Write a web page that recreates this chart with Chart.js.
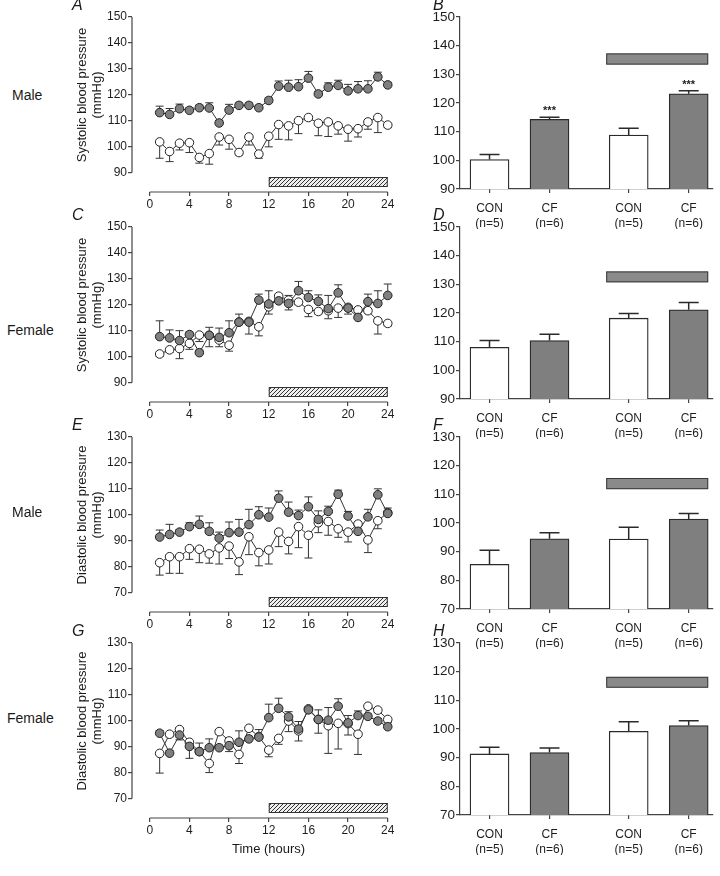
<!DOCTYPE html>
<html><head><meta charset="utf-8">
<script src="https://cdn.jsdelivr.net/npm/chart.js@4.4.0/dist/chart.umd.min.js"></script>
<style>
body{margin:0;background:#fff;width:720px;height:876px;position:relative;overflow:hidden;font-family:"Liberation Sans",Arial,sans-serif;color:#1a1a1a}
canvas{position:absolute}
.t{position:absolute;white-space:nowrap;line-height:18px}
.letter{font-style:italic;font-size:16px}
.sex{font-size:14px}
.yt{position:absolute;width:180px;height:30px;font-size:13px;line-height:15px;text-align:center;transform:rotate(-90deg);white-space:nowrap}
</style></head><body>
<script>
// ---------- data ----------
const hours = [1,2,3,4,5,6,7,8,9,10,11,12,13,14,15,16,17,18,19,20,21,22,23,24];
const xTickValues = [0,4,8,12,16,20,24];
const darkPeriod = [12,24];
const sysTicks = [90,100,110,120,130,140,150];
const diaTicks = [70,80,90,100,110,120,130];

// A: systolic, male
const conA    = [101.8,98.1,101.3,101.5,95.8,97.3,103.7,102.8,97.7,103.7,97.1,104.0,108.5,108.0,110.0,111.2,109.0,109.5,108.0,106.7,106.9,109.5,111.2,108.3];
const conAerr = [6.3,3.9,2.6,3.8,2.2,4.1,3.1,3.8,1.0,3.1,1.6,4.1,5.7,5.4,5.0,1.0,4.8,5.6,3.2,4.6,3.2,2.8,5.8,1.0];
const cfA     = [113.1,112.4,114.6,114.0,115.0,114.9,109.1,114.1,115.9,115.9,115.0,117.8,123.3,122.9,123.1,126.4,120.3,122.9,123.6,121.5,122.3,122.3,126.9,123.8];
const cfAerr  = [2.5,2.3,1.8,1.0,1.0,2.0,1.0,2.2,1.0,1.0,1.0,1.0,2.0,2.7,2.7,2.6,1.0,1.7,2.0,2.5,2.8,3.1,1.8,1.0];
// C: systolic, female
const conC    = [101.0,102.6,103.1,105.1,108.3,108.2,106.4,104.4,113.3,113.6,111.5,119.2,123.3,121.8,121.0,118.2,117.4,117.7,118.7,119.0,118.0,117.7,113.8,112.8];
const conCerr = [1.0,1.0,3.9,2.3,2.5,4.4,2.6,2.3,1.0,4.9,3.5,2.8,1.0,3.8,1.0,2.8,1.0,3.1,3.6,2.6,1.0,1.0,5.1,1.0];
const cfC     = [107.7,107.2,106.2,108.5,101.5,108.2,107.4,109.2,113.3,113.3,121.8,120.3,121.5,120.5,125.4,122.8,121.3,118.5,124.6,118.7,115.1,121.2,120.5,123.6];
const cfCerr  = [6.1,3.1,3.8,1.0,1.0,3.1,3.6,4.6,3.1,1.0,2.3,5.1,2.6,3.1,3.6,2.6,2.5,5.1,3.1,1.0,1.0,2.9,4.9,4.4];
// E: diastolic, male
const conE    = [81.5,83.8,83.8,86.9,86.7,84.9,87.2,87.9,81.8,91.5,85.4,86.4,93.3,89.7,95.4,92.1,96.9,97.4,94.6,93.3,96.4,90.3,97.7,100.8];
const conEerr = [4.8,6.4,6.4,4.1,5.2,3.6,6.2,4.8,4.9,6.9,5.1,5.4,5.6,4.8,8.1,8.8,3.8,5.3,3.3,3.8,1.0,4.9,3.1,1.0];
const cfE     = [91.4,92.4,93.3,95.4,96.3,93.6,91.0,93.1,93.3,96.2,100.0,99.1,106.4,101.0,99.7,103.1,98.2,101.3,107.9,99.5,93.6,99.2,107.7,100.5];
const cfEerr  = [2.7,3.9,1.0,1.5,3.2,3.3,2.3,4.1,4.9,5.9,3.1,3.5,2.8,3.9,2.1,3.8,3.3,2.0,1.6,1.8,3.6,2.9,2.3,2.1];
// G: diastolic, female
const conG    = [87.4,94.8,96.6,91.7,88.1,83.5,95.8,92.2,87.0,97.1,93.9,88.7,93.2,99.9,96.1,104.6,100.5,98.1,99.0,98.9,94.8,105.6,104.1,100.5];
const conGerr = [7.6,1.0,4.0,6.2,1.0,3.5,1.0,4.1,3.5,1.0,1.0,2.6,2.3,4.1,3.9,1.0,5.3,10.7,9.9,4.4,7.8,1.0,1.0,1.0];
const cfG     = [95.2,87.5,94.5,90.1,88.1,89.6,89.6,90.4,91.7,93.0,93.7,101.2,104.8,101.5,96.8,104.2,100.5,100.2,105.6,99.2,102.0,101.7,99.9,97.7];
const cfGerr  = [1.0,1.0,2.9,1.0,3.3,3.4,1.0,1.0,4.4,1.0,2.9,5.2,3.9,2.0,2.9,1.0,3.7,4.9,2.9,2.8,1.8,1.0,1.0,1.5];

// Bar panels: order CON, CF, CON, CF
const barLabels = ['CON','CF','CON','CF'];
const barN      = ['(n=5)','(n=6)','(n=5)','(n=6)'];
const barB = [100.3,114.3,108.8,123.2], barBerr = [1.7,0.7,2.4,1.1], bandB = [133.4,137.3], starsB = ['','***','','***'];
const barD = [108.0,110.4,118.2,121.1], barDerr = [2.4,2.2,1.6,2.6], bandD = [130.7,134.5], starsD = ['','','',''];
const barF = [85.6,94.5,94.4,101.4],   barFerr = [4.9,2.1,4.1,1.9], bandF = [111.8,115.7], starsF = ['','','',''];
const barH = [91.3,91.8,99.2,101.2],   barHerr = [2.3,1.6,3.3,1.7], bandH = [114.4,118.2], starsH = ['','','',''];

// ---------- styles ----------
const AX = '#444', TXT = '#1e1e1e', GRAYF = '#7f7f7f';
const FONT = {family:'"Liberation Sans", Arial, sans-serif', size:12};
const FONT_R = {family:'"Liberation Sans", Arial, sans-serif', size:13.5};

const hc = document.createElement('canvas'); hc.width = 4; hc.height = 4;
const hx = hc.getContext('2d');
hx.fillStyle = '#efefef'; hx.fillRect(0,0,4,4);
hx.strokeStyle = '#333'; hx.lineWidth = 1;
hx.beginPath(); hx.moveTo(-1,1); hx.lineTo(1,-1); hx.moveTo(0,4); hx.lineTo(4,0); hx.moveTo(3,5); hx.lineTo(5,3); hx.stroke();

const leftDecor = {
  id:'leftDecor',
  beforeDatasetsDraw(chart){
    const {ctx, scales:{x, y}} = chart;
    ctx.save();
    ctx.strokeStyle = '#333'; ctx.lineWidth = 1;
    chart.data.datasets.forEach(ds => {
      ds.data.forEach((p, i) => {
        const px = x.getPixelForValue(p.x);
        const p0 = y.getPixelForValue(p.y), p1 = y.getPixelForValue(p.y + ds.errDir * ds.err[i]);
        ctx.beginPath();
        ctx.moveTo(px, p0); ctx.lineTo(px, p1);
        ctx.moveTo(px - 4, p1); ctx.lineTo(px + 4, p1);
        ctx.stroke();
      });
    });
    ctx.restore();
  },
  afterDraw(chart){
    const {ctx, chartArea, scales:{x, y}} = chart;
    const t = chart.options.plugins.leftDecor;
    ctx.save();
    ctx.strokeStyle = AX; ctx.lineWidth = 1.2;
    ctx.beginPath();
    ctx.moveTo(chartArea.left, y.getPixelForValue(t.yTicks[0]));
    ctx.lineTo(chartArea.left, y.getPixelForValue(t.yTicks[t.yTicks.length-1]));
    ctx.stroke();
    const xb = chartArea.bottom;
    ctx.beginPath();
    ctx.moveTo(x.getPixelForValue(xTickValues[0]), xb);
    ctx.lineTo(x.getPixelForValue(xTickValues[xTickValues.length-1]), xb);
    ctx.stroke();
    const x0 = x.getPixelForValue(darkPeriod[0]), x1 = x.getPixelForValue(darkPeriod[1]);
    ctx.fillStyle = ctx.createPattern(hc, 'repeat');
    ctx.fillRect(x0, xb - 15, x1 - x0, 10);
    ctx.strokeStyle = '#333'; ctx.lineWidth = 1;
    ctx.strokeRect(x0 + 0.5, xb - 14.5, x1 - x0 - 1, 9);
    ctx.restore();
  }
};

function leftChart(top, yTicks, con, conErr, cf, cfErr){
  const cv = document.createElement('canvas');
  cv.width = 340; cv.height = 211;
  cv.style.left = '60px'; cv.style.top = (top - 12) + 'px';
  document.body.appendChild(cv);
  const ymax = yTicks[yTicks.length-1], ylo = yTicks[0];
  const ppu = 155.5 / (ymax - ylo);
  const ymin = ymax - 175 / ppu;
  new Chart(cv, {
    type:'scatter',
    data:{datasets:[
      {data: hours.map((h,i)=>({x:h, y:cf[i]})), err: cfErr, errDir: 1, showLine:true,
       borderColor:'#333', borderWidth:1, pointRadius:4.3, pointBackgroundColor:GRAYF, pointBorderColor:'#222', pointBorderWidth:1},
      {data: hours.map((h,i)=>({x:h, y:con[i]})), err: conErr, errDir: -1, showLine:true,
       borderColor:'#333', borderWidth:1, pointRadius:4.3, pointBackgroundColor:'#fff', pointBorderColor:'#222', pointBorderWidth:1}
    ]},
    options:{
      responsive:false, animation:false, devicePixelRatio:1,
      layout:{padding:{top:12, right:2, left:0, bottom:0}},
      plugins:{legend:{display:false}, tooltip:{enabled:false}, leftDecor:{yTicks}},
      scales:{
        x:{type:'linear', min:-1.79, max:24.7, offset:false,
           afterBuildTicks: s => { s.ticks = xTickValues.map(v => ({value:v})); },
           ticks:{color:TXT, font:FONT, padding:1, autoSkip:false, maxRotation:0},
           grid:{drawOnChartArea:false, drawTicks:true, tickLength:4, color:AX, lineWidth:1.2, offset:false},
           border:{display:false},
           afterFit: s => { s.height = 24; }},
        y:{min:ymin, max:ymax,
           afterBuildTicks: s => { s.ticks = yTicks.map(v => ({value:v})); },
           ticks:{color:TXT, font:FONT, padding:1},
           grid:{drawOnChartArea:false, drawTicks:true, tickLength:4, color:AX, lineWidth:1.2},
           border:{display:false},
           afterFit: s => { s.width = 72; }}
      }
    },
    plugins:[leftDecor]
  });
}

const rightDecor = {
  id:'rightDecor',
  afterDatasetsDraw(chart){
    const {ctx, scales:{y}} = chart;
    const o = chart.options.plugins.rightDecor;
    const ds = chart.data.datasets[0];
    const meta = chart.getDatasetMeta(0);
    ctx.save();
    ctx.strokeStyle = '#2a2a2a'; ctx.lineWidth = 1.5;
    meta.data.forEach((bar, i) => {
      const v = ds.data[i].y, e = o.err[i];
      const p0 = y.getPixelForValue(v), p1 = y.getPixelForValue(v + e);
      ctx.beginPath();
      ctx.moveTo(bar.x, p0); ctx.lineTo(bar.x, p1);
      ctx.moveTo(bar.x - 10, p1); ctx.lineTo(bar.x + 10, p1);
      ctx.stroke();
      if (o.stars[i]) {
        ctx.fillStyle = '#222';
        ctx.font = 'bold 11px "Liberation Sans", Arial, sans-serif';
        ctx.textAlign = 'center'; ctx.textBaseline = 'middle';
        ctx.fillText(o.stars[i], bar.x, p1 - 6);
      }
    });
    const b2 = meta.data[2], b3 = meta.data[3];
    const xl = b2.x - b2.width/2 - 3, xr = b3.x + b3.width/2;
    const yt = y.getPixelForValue(o.band[1]), yb = y.getPixelForValue(o.band[0]);
    ctx.fillStyle = '#8a8a8a';
    ctx.fillRect(xl, yt, xr - xl, yb - yt);
    ctx.strokeStyle = '#3a3a3a'; ctx.lineWidth = 1;
    ctx.strokeRect(xl + 0.5, yt + 0.5, xr - xl - 1, yb - yt - 1);
    ctx.restore();
  }
};

function rightChart(top, yTicks, vals, errs, band, stars){
  const cv = document.createElement('canvas');
  cv.width = 320; cv.height = 224;
  cv.style.left = '400px'; cv.style.top = (top - 12) + 'px';
  document.body.appendChild(cv);
  const gap = 0.32;
  const xs = vals.map((v, i) => i + 1 + (i >= 2 ? gap : 0));
  new Chart(cv, {
    type:'bar',
    data:{datasets:[{
      data: xs.map((x, i) => ({x, y: vals[i]})),
      backgroundColor: vals.map((v, i) => i % 2 ? GRAYF : '#ffffff'),
      borderColor:'#2a2a2a', borderWidth:1.3, borderSkipped:false, barThickness:39
    }]},
    options:{
      responsive:false, animation:false, devicePixelRatio:1,
      layout:{padding:{top:12, right:7, left:0, bottom:0}},
      plugins:{legend:{display:false}, tooltip:{enabled:false}, rightDecor:{err:errs, band, stars}},
      scales:{
        x:{type:'linear', min:0.508, max:4.725, offset:false,
           afterBuildTicks: s => { s.ticks = xs.map(v => ({value:v})); },
           ticks:{color:TXT, font:{...FONT, lineHeight:1.25}, padding:8, autoSkip:false, maxRotation:0,
                  callback:(v, i) => [barLabels[i], barN[i]]},
           grid:{drawOnChartArea:false, drawTicks:true, tickLength:4, color:AX, lineWidth:1.2, offset:false},
           border:{display:true, color:AX, width:1.2},
           afterFit: s => { s.height = 40; }},
        y:{min:yTicks[0], max:yTicks[yTicks.length-1],
           afterBuildTicks: s => { s.ticks = yTicks.map(v => ({value:v})); },
           ticks:{color:TXT, font:FONT_R, padding:1},
           grid:{drawOnChartArea:false, drawTicks:true, tickLength:4, color:AX, lineWidth:1.2},
           border:{display:true, color:AX, width:1.2},
           afterFit: s => { s.width = 60; }}
      }
    },
    plugins:[rightDecor]
  });
}

// ---------- layout ----------
const tops = [17, 227, 437, 643];
leftChart(tops[0], sysTicks, conA, conAerr, cfA, cfAerr);
leftChart(tops[1], sysTicks, conC, conCerr, cfC, cfCerr);
leftChart(tops[2], diaTicks, conE, conEerr, cfE, cfEerr);
leftChart(tops[3], diaTicks, conG, conGerr, cfG, cfGerr);
rightChart(tops[0], sysTicks, barB, barBerr, bandB, starsB);
rightChart(tops[1], sysTicks, barD, barDerr, bandD, starsD);
rightChart(tops[2], diaTicks, barF, barFerr, bandF, starsF);
rightChart(tops[3], diaTicks, barH, barHerr, bandH, starsH);

function addText(cls, txt, left, top, extra){
  const d = document.createElement('div');
  d.className = 't ' + cls; d.textContent = txt;
  d.style.left = left + 'px'; d.style.top = top + 'px';
  if (extra) Object.assign(d.style, extra);
  document.body.appendChild(d);
}
const letters = [['A','B'],['C','D'],['E','F'],['G','H']];
const sexes = ['Male','Female','Male','Female'];
const sexY = [86, 321, 503, 709];
const titles = ['Systolic blood pressure','Systolic blood pressure','Diastolic blood pressure','Diastolic blood pressure'];
tops.forEach((T, k) => {
  addText('letter', letters[k][0], 72, T - 21);
  addText('letter', letters[k][1], 433, T - 21);
  addText('sex', sexes[k], k % 2 ? 7 : 12, sexY[k]);
  const d = document.createElement('div');
  d.className = 'yt';
  d.innerHTML = titles[k] + '<br>(mmHg)';
  d.style.left = (89 - 90) + 'px'; d.style.top = (T + 78 - 15) + 'px';
  document.body.appendChild(d);
});
addText('', 'Time (hours)', 232, 840, {fontSize:'13px'});
</script>
</body></html>
